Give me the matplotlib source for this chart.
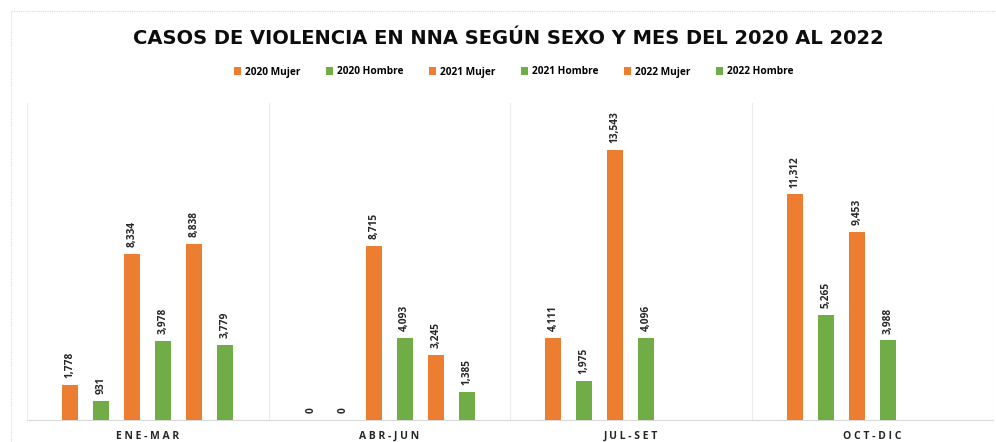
import numpy as np
import matplotlib
matplotlib.use("Agg")
import matplotlib.pyplot as plt
from matplotlib.patches import Rectangle

categories = ["ENE-MAR", "ABR-JUN", "JUL-SET", "OCT-DIC"]
series_names = ["2020 Mujer", "2020 Hombre", "2021 Mujer", "2021 Hombre", "2022 Mujer", "2022 Hombre"]
v_2020_mujer = [1778, 0, 4111, 11312]
v_2020_hombre = [931, 0, 1975, 5265]
v_2021_mujer = [8334, 8715, 13543, 9453]
v_2021_hombre = [3978, 4093, 4096, 3988]
v_2022_mujer = [8838, 3245, None, None]
v_2022_hombre = [3779, 1385, None, None]
series_values = [v_2020_mujer, v_2020_hombre, v_2021_mujer, v_2021_hombre, v_2022_mujer, v_2022_hombre]

ORANGE = "#ED7D31"
GREEN = "#70AD47"
colors = [ORANGE, GREEN, ORANGE, GREEN, ORANGE, GREEN]

plt.rcParams['font.family'] = ['Open Sans', 'DejaVu Sans']

fig = plt.figure(figsize=(9.96, 4.42), dpi=100)
ax = fig.add_axes([27/996, 1-420/442, (993-27)/996, (420-103)/442])

x = np.arange(len(categories))
step = 31/241
width = 16/241
for i, (name, vals, c) in enumerate(zip(series_names, series_values, colors)):
    off = (i - 2.5) * step
    ys = np.array([np.nan if v is None else v for v in vals], dtype=float)
    ax.bar(x + off, ys, width=width, color=c, label=name, zorder=3)
    for xi, v in zip(x, vals):
        if v is None:
            continue
        ax.annotate(f"{v:,}", (xi + off, v), xytext=(0, 5), textcoords="offset points",
                    rotation=90, ha="center", va="bottom", fontsize=7.3,
                    fontweight="bold", color="#262626")

ax.set_xlim(-0.5, len(categories) - 0.5)
ax.set_ylim(0, 15900)
ax.set_yticks([])
ax.set_xticks(x)
ax.set_xticklabels([" ".join(c) for c in categories], fontsize=7.5, fontweight="bold", color="#262626")
ax.tick_params(axis="x", length=0, pad=8)
for s in ["top", "left", "right"]:
    ax.spines[s].set_visible(False)
ax.spines["bottom"].set_color("#D9D9D9")
for b in np.arange(0.5, len(categories) - 0.5 + 1e-9, 1.0):
    ax.axvline(b, color="#EBEBEB", lw=0.8, zorder=1)
ax.axvline(-0.5, color="#EBEBEB", lw=0.8, zorder=1)

fig.patches.append(Rectangle((11/996, -0.1), 1.2, 1 - 11/442 + 0.1, transform=fig.transFigure,
                             fill=False, edgecolor="#D9D9D9", lw=0.8, ls=(0, (1, 1))))

fig.text(0.51, 1 - 38/442, "CASOS DE VIOLENCIA EN NNA SEGÚN SEXO Y MES DEL 2020 AL 2022",
         ha="center", va="center", fontsize=14, fontweight="bold", color="#0D0D0D",
         family=["DejaVu Sans"])

fig.legend(loc="center", bbox_to_anchor=(0.516, 1 - 72/442), ncol=6, frameon=False,
           handlelength=0.7, handleheight=0.7, handletextpad=0.4, columnspacing=2.5,
           prop={"weight": "bold", "size": 7.3})

fig.savefig("out.png", dpi=100, facecolor="white")
